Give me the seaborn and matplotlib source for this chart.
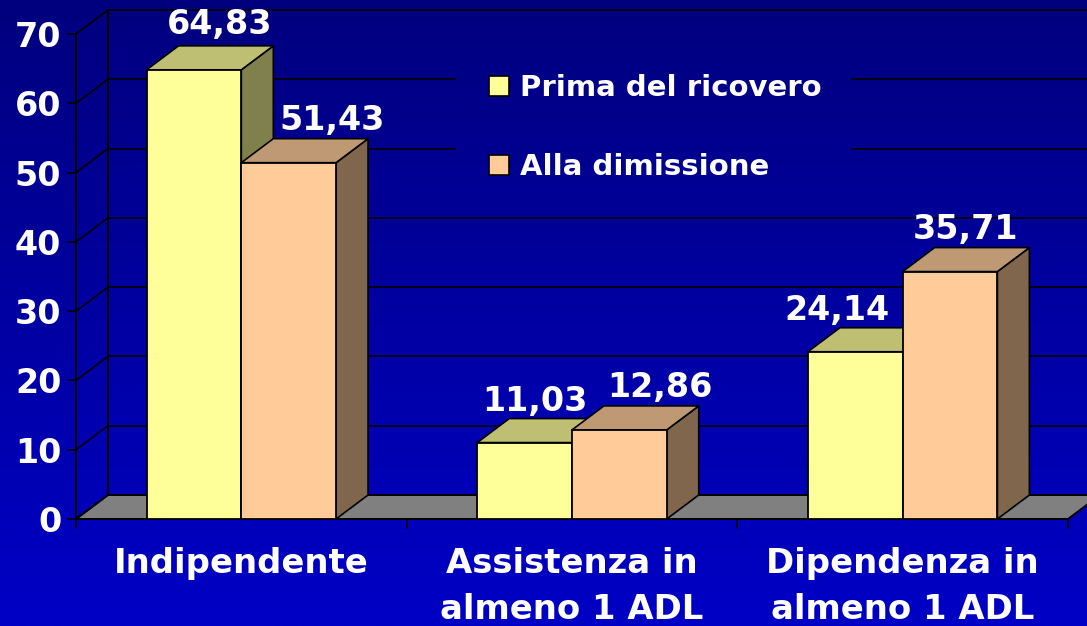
import numpy as np
import pandas as pd
import matplotlib
matplotlib.use("Agg")
import matplotlib.pyplot as plt
from matplotlib.patches import Polygon, Patch
import seaborn as sns

categories = ["Indipendente", "Assistenza in\nalmeno 1 ADL", "Dipendenza in\nalmeno 1 ADL"]
prima = [64.83, 11.03, 24.14]
dimissione = [51.43, 12.86, 35.71]
series_names = ["Prima del ricovero", "Alla dimissione"]
value_labels_prima = ["64,83", "11,03", "24,14"]
value_labels_dim = ["51,43", "12,86", "35,71"]
yticks = [0, 10, 20, 30, 40, 50, 60, 70]

W, H = 1087, 626
L, R, T, B = 76, 1068, 34, 519
DX, DY = 32, 24
FONT = "DejaVu Sans"
sns.set_theme(style="white")
plt.rcParams["font.family"] = [FONT]

fig = plt.figure(figsize=(W / 100, H / 100), dpi=100)
bg = fig.add_axes([0, 0, 1, 1], zorder=0)
bg.imshow(np.linspace(0, 1, 256).reshape(-1, 1), aspect="auto", extent=[0, 1, 0, 1],
          cmap=matplotlib.colors.LinearSegmentedColormap.from_list("b", ["#00007E", "#0000C6"]))
bg.axis("off")

ax = fig.add_axes([L / W, (H - B) / H, (R - L) / W, (B - T) / H], zorder=1)
ax.patch.set_alpha(0)

df = pd.DataFrame({
    "cat": categories * 2,
    "val": prima + dimissione,
    "serie": [series_names[0]] * 3 + [series_names[1]] * 3,
})
sns.barplot(data=df, x="cat", y="val", hue="serie", order=categories, hue_order=series_names,
            palette=["#FFFF99", "#FFCC99"], width=0.573, gap=0, saturation=1,
            edgecolor="black", linewidth=1.3, ax=ax, legend=False)
ax.set_xlim(-0.5, 2.5)
ax.set_ylim(0, 70)
ddx = DX / ((R - L) / 3)
ddy = DY / ((B - T) / 70)
LK = "black"

# floor
ax.add_patch(Polygon([(-0.5, 0), (-0.5 + ddx, ddy), (2.5 + ddx, ddy), (2.5, 0)], closed=True,
                     facecolor="#808080", edgecolor=LK, lw=1.4, clip_on=False, zorder=1))
# back wall and side wall
gap_lo = (455 - L) / ((R - L) / 3) - 0.5
gap_hi = (852 - L) / ((R - L) / 3) - 0.5
for v in yticks:
    yy = v + ddy
    if v in (50, 60):
        ax.plot([-0.5 + ddx, gap_lo], [yy, yy], color=LK, lw=1.2, clip_on=False, zorder=1)
        ax.plot([gap_hi, 2.5 + ddx], [yy, yy], color=LK, lw=1.2, clip_on=False, zorder=1)
    elif v != 0:
        ax.plot([-0.5 + ddx, 2.5 + ddx], [yy, yy], color=LK, lw=1.2, clip_on=False, zorder=1)
    ax.plot([-0.5, -0.5 + ddx], [v, yy], color=LK, lw=1.2, clip_on=False, zorder=1)
ax.plot([-0.5 + ddx, -0.5 + ddx], [ddy, 70 + ddy], color=LK, lw=1.4, clip_on=False, zorder=1)

def darken(c, f):
    return tuple(np.array(matplotlib.colors.to_rgb(c)) * f)

colors = ["#FFFF99", "#FFCC99"]
offsets = [[(26, 45), (10, 41), (-18, 41)], [(43, 42), (41, 42), (15, 42)]]
texts = [value_labels_prima, value_labels_dim]
base_z = 3
for si, cont in enumerate(ax.containers):
    for bi, bar in enumerate(cont):
        x0, w, h = bar.get_x(), bar.get_width(), bar.get_height()
        z = base_z + si * 0.2
        ax.add_patch(Polygon([(x0 + w, 0), (x0 + w + ddx, ddy), (x0 + w + ddx, h + ddy), (x0 + w, h)],
                             closed=True, facecolor=darken(colors[si], 0.5), edgecolor=LK, lw=1.2,
                             clip_on=False, zorder=z))
        ax.add_patch(Polygon([(x0, h), (x0 + ddx, h + ddy), (x0 + w + ddx, h + ddy), (x0 + w, h)],
                             closed=True, facecolor=darken(colors[si], 0.75), edgecolor=LK, lw=1.2,
                             clip_on=False, zorder=z))
        bar.set_zorder(z + 0.1)
        bar.set_clip_on(False)
        ox, oy = offsets[si][bi]
        ax.annotate(texts[si][bi], (x0 + w / 2, h), xytext=(ox, oy), textcoords="offset pixels",
                    ha="center", va="center", color="white", fontsize=24, fontweight="bold", zorder=10,
                    annotation_clip=False)

ax.set_xlabel("")
ax.set_ylabel("")
ax.set_yticks(yticks)
ax.set_xticks([0, 1, 2])
ax.set_xticklabels(categories, color="white", fontsize=24.4, fontweight="bold", linespacing=1.5)
ax.set_yticklabels([str(v) for v in yticks], color="white", fontsize=24, fontweight="bold")
ax.tick_params(axis="y", length=6.5, width=1.2, color=LK, pad=4, left=True)
ax.tick_params(axis="x", length=0, pad=20)
for xt in [-0.5, 0.5, 1.5, 2.5]:
    ax.plot([xt, xt], [0, -9 / ((B - T) / 70)], color=LK, lw=1.2, clip_on=False, zorder=2)
for s in ["top", "right"]:
    ax.spines[s].set_visible(False)
for s in ["left", "bottom"]:
    ax.spines[s].set_color(LK)
    ax.spines[s].set_linewidth(1.4)
    ax.spines[s].set_zorder(2)

handles = [Patch(facecolor=c, edgecolor="black", lw=1.2) for c in colors]
leg = fig.legend(handles, series_names, loc="upper left", bbox_to_anchor=(489 / W, 1 - 74 / H),
                 frameon=False, handlelength=0.7, handleheight=0.7,
                 handletextpad=0.38, labelspacing=1.75, borderpad=0, borderaxespad=0,
                 prop={"family": FONT, "weight": "bold", "size": 21})
for t in leg.get_texts():
    t.set_color("white")
leg.set_zorder(20)

fig.savefig("out.png", dpi=100)
